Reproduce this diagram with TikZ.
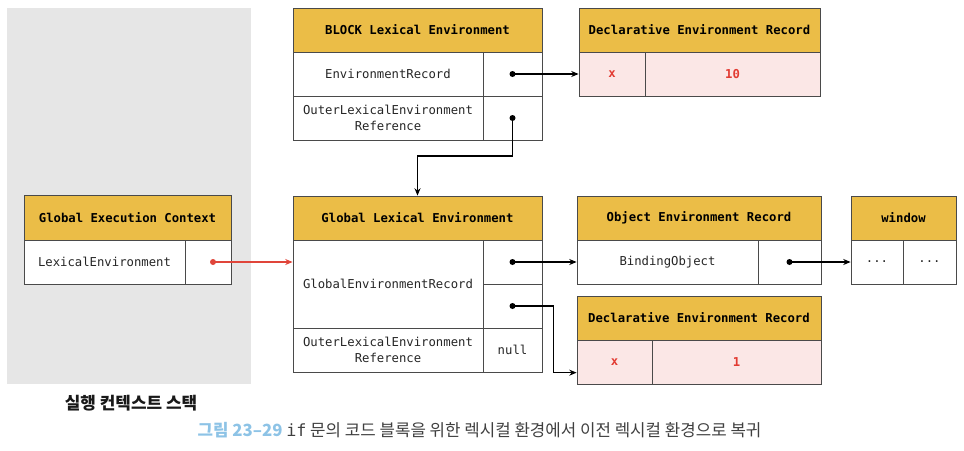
\documentclass[tikz,border=0pt]{standalone}
\usepackage{fontspec}
\setmonofont{DejaVu Sans Mono}
\newfontfamily\krfont{Noto Sans CJK KR}
\usetikzlibrary{arrows.meta}

\definecolor{hdgold}{HTML}{EBBD47}
\definecolor{rowpink}{HTML}{FBE7E6}
\definecolor{valred}{HTML}{E23B32}
\definecolor{ptrred}{HTML}{E0453A}
\definecolor{stackgray}{HTML}{E6E6E6}
\definecolor{capblue}{HTML}{8DC3E6}
\definecolor{edgegray}{HTML}{4A4A4A}

\tikzset{every picture/.style={line width=0.75pt}}
\tikzset{
	cell/.style 2 args={draw=edgegray, fill=white, line width=0.6pt, inner sep=0pt,
		minimum width=#1*0.75pt, minimum height=#2*0.75pt, align=center,
		font=\ttfamily\fontsize{9.2}{12}\selectfont, text=black!85},
	head/.style={fill=hdgold, font=\ttfamily\bfseries\fontsize{9.2}{12}\selectfont, text=black},
	slot/.style={fill=rowpink, font=\ttfamily\bfseries\fontsize{9.2}{12}\selectfont, text=valred},
	ref/.style={-{Stealth[length=5.5pt,width=4.5pt]}, line width=0.85pt}}

\begin{document}
\begin{tikzpicture}[x=0.75pt,y=0.75pt,yscale=-1,xscale=1]
	\useasboundingbox (0,0) rectangle (964,450);

	%Shape: Execution context stack [background]
	\fill[stackgray] (7,8) rectangle (251,384);

	%Table: Global Execution Context
	\node[cell={207}{45}, head] (gec-hd) at (127.5,217.5) {Global Execution Context};
	\node[cell={161}{44}] (gec-le) at (104.5,262) {LexicalEnvironment};
	\node[cell={46}{44}] (gec-p) at (208,262) {};

	%Table: BLOCK Lexical Environment
	\node[cell={249}{44}, head] (blk-hd) at (417.5,30) {BLOCK Lexical Environment};
	\node[cell={190}{44}] (blk-er) at (388,74) {EnvironmentRecord};
	\node[cell={59}{44}] (blk-er-p) at (512.5,74) {};
	\node[cell={190}{44}] (blk-out) at (388,118) {OuterLexicalEnvironment\\Reference};
	\node[cell={59}{44}] (blk-out-p) at (512.5,118) {};

	%Table: Declarative Environment Record (block)
	\node[cell={241}{44}, head] (decl1-hd) at (699.5,30) {Declarative Environment Record};
	\node[cell={66}{44}, slot] (decl1-x) at (612,74) {x};
	\node[cell={175}{44}, slot] (decl1-val) at (732.5,74) {10};

	%Table: Global Lexical Environment
	\node[cell={249}{44}, head] (gle-hd) at (417.5,218) {Global Lexical Environment};
	\node[cell={190}{88}] (gle-ger) at (388,284) {GlobalEnvironmentRecord};
	\node[cell={59}{44}] (gle-p1) at (512.5,262) {};
	\node[cell={59}{44}] (gle-p2) at (512.5,306) {};
	\node[cell={190}{44}] (gle-out) at (388,350) {OuterLexicalEnvironment\\Reference};
	\node[cell={59}{44}] (gle-null) at (512.5,350) {null};

	%Table: Object Environment Record
	\node[cell={244}{44}, head] (obj-hd) at (699,218) {Object Environment Record};
	\node[cell={181}{44}] (obj-bind) at (667.5,262) {BindingObject};
	\node[cell={63}{44}] (obj-p) at (789.5,262) {};

	%Table: window
	\node[cell={105}{44}, head] (win-hd) at (903.5,218) {window};
	\node[cell={52}{44}] (win-a) at (877,262) {...};
	\node[cell={53}{44}] (win-b) at (929.5,262) {...};

	%Table: Declarative Environment Record (global)
	\node[cell={244}{44}, head] (decl2-hd) at (699,318) {Declarative Environment Record};
	\node[cell={75}{44}, slot] (decl2-x) at (614.5,362) {x};
	\node[cell={169}{44}, slot] (decl2-val) at (736.5,362) {1};

	%Connectors
	\coordinate (gec-dot) at ([xshift=3.75pt]gec-p.center);
	\draw[ref, ptrred] (gec-dot) -- (gec-dot -| gle-ger.west);
	\fill[ptrred] (gec-dot) circle (3);
	\draw[ref] (blk-er-p.center) -- (decl1-x.west);
	\draw[ref] (blk-out-p.center) -- ++(0,38) -| (gle-hd.north);
	\draw[ref] (gle-p1.center) -- (obj-bind.west);
	\draw[ref] (gle-p2.center) -- ++(41,0) |- ([yshift=8pt]decl2-x.west);
	\draw[ref] (obj-p.center) -- (win-a.west);
	\foreach \p in {blk-er-p, blk-out-p, gle-p1, gle-p2, obj-p}
		\fill (\p.center) circle (3);

	% Text Node
	\node[font=\krfont\bfseries\fontsize{12.7}{14}\selectfont, text=black!90] (stack-lbl) at (131,403) {실행 컨텍스트 스택};
	% Text Node
	\node[font=\krfont\fontsize{12.6}{14}\selectfont, text=black!75] (fig-cap) at (479.5,430)
		{{\color{capblue}\bfseries 그림 23–29} {\ttfamily if} 문의 코드 블록을 위한 렉시컬 환경에서 이전 렉시컬 환경으로 복귀};

\end{tikzpicture}
\end{document}
